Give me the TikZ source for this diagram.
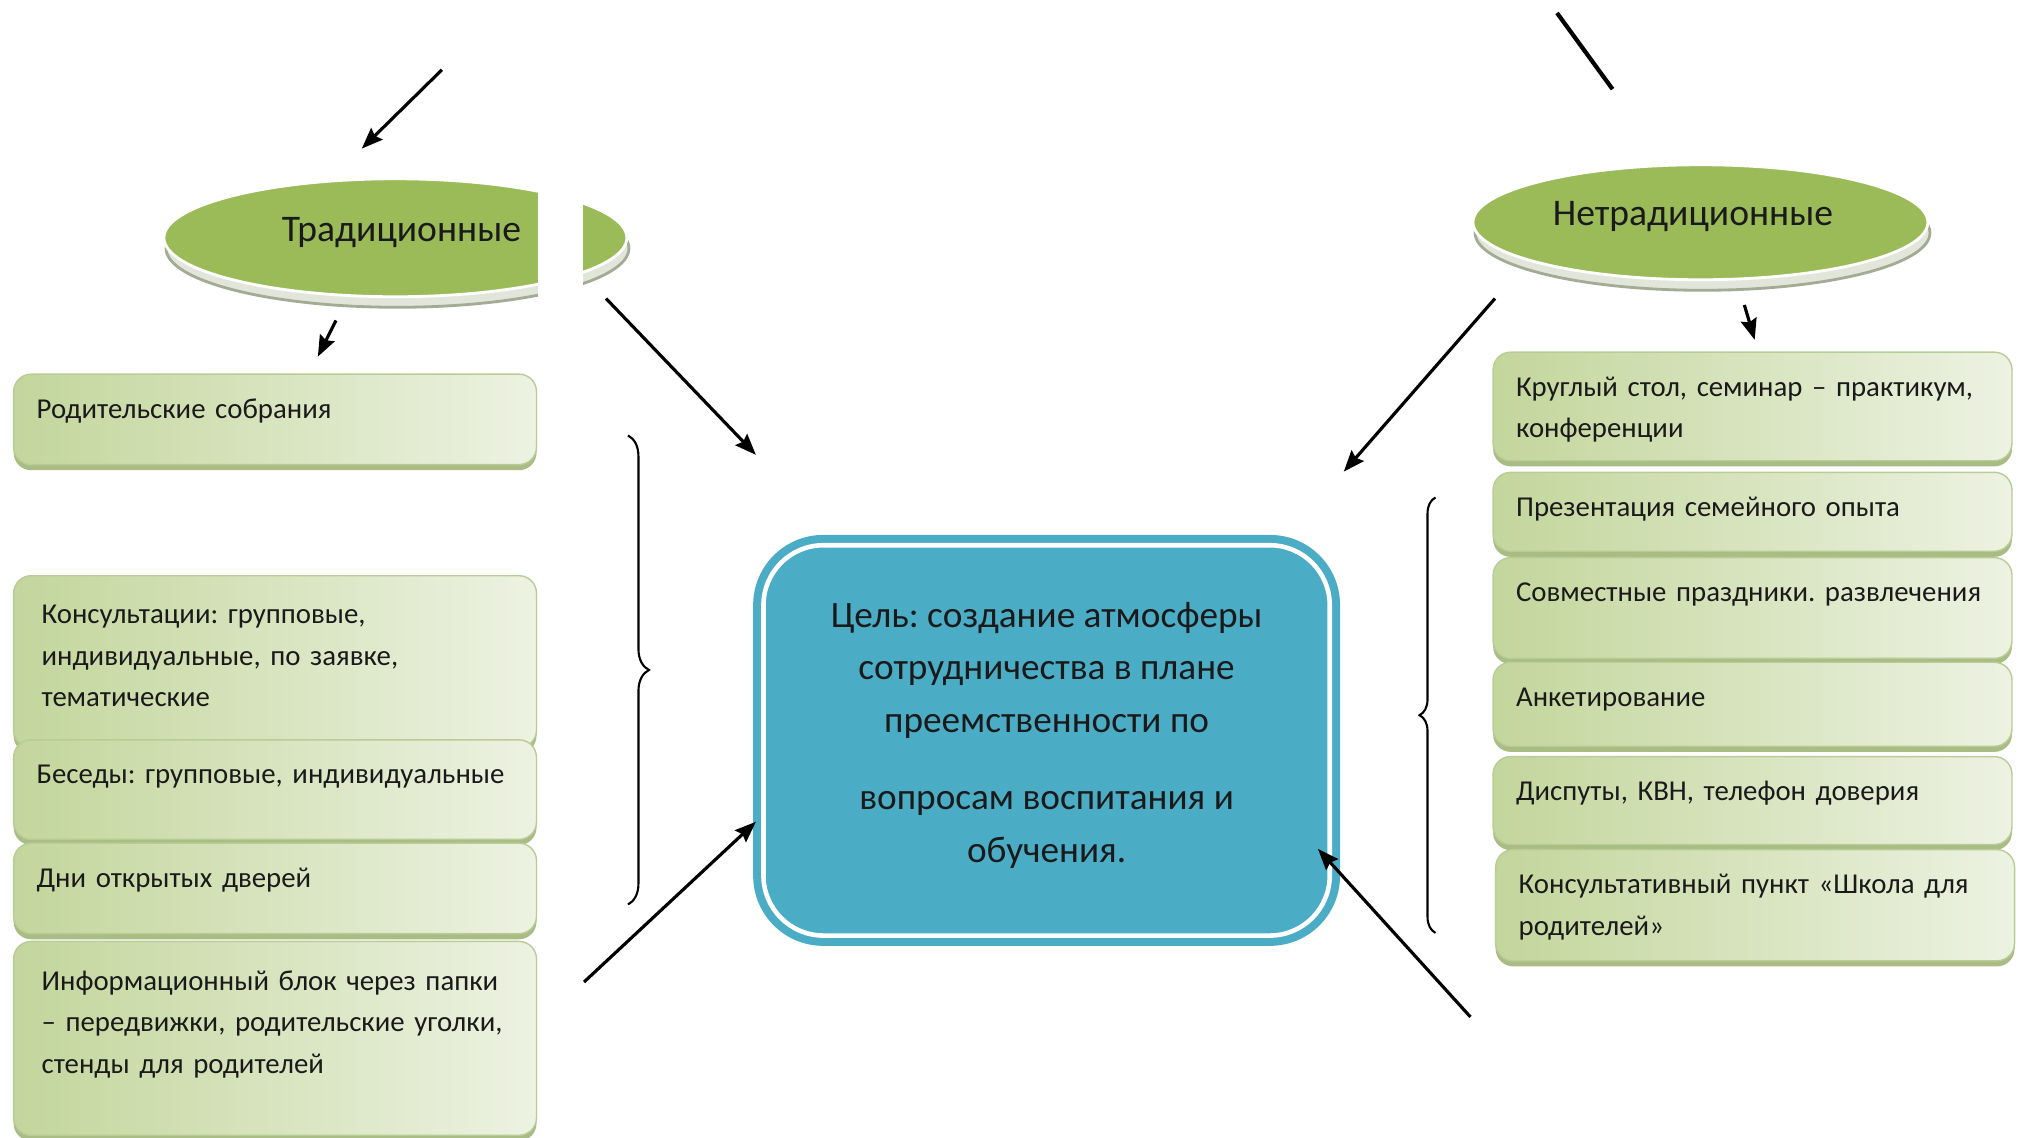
\documentclass[tikz,border=0pt]{standalone}
\usepackage{fontspec}
\setmainfont{Carlito}
\usetikzlibrary{shapes.geometric,shadows,decorations.pathreplacing,arrows.meta}

\definecolor{ellgreen}{HTML}{9BBB59}
\definecolor{rimlight}{HTML}{E2E6DA}
\definecolor{rimedge}{HTML}{A3AB95}
\definecolor{boxdark}{HTML}{C3D69C}
\definecolor{boxlight}{HTML}{EDF2E2}
\definecolor{boxedge}{HTML}{B9CC96}
\definecolor{boxshade}{HTML}{A9BC84}
\definecolor{goalblue}{HTML}{4BACC6}
\definecolor{inktext}{HTML}{1A1A1A}

\frenchspacing

\begin{document}
\begin{tikzpicture}[x=0.01292cm, y=-0.01292cm, >={Stealth[length=6pt,width=4.6pt,inset=0.8pt]},
                    text=inktext, font=\fontsize{8.2}{11.8}\selectfont]

\tikzstyle{kind}    = [ellipse, fill=ellgreen, draw=white, line width=0.8pt,
                       general shadow={fill=rimlight, draw=rimedge, shadow yshift=-3pt, shadow xshift=0.6pt},
                       font=\fontsize{10.7}{13}\selectfont, inner sep=0pt, text depth=0.17cm]
\tikzstyle{lbox}    = [rectangle, rounded corners=5pt, draw=boxedge,
                       left color=boxdark, right color=boxlight,
                       general shadow={fill=boxshade, shadow yshift=-1.6pt},
                       anchor=north west, align=left, inner xsep=0.23cm, inner ysep=0pt,
                       text height=0.44cm, text width=4.77cm]
\tikzstyle{wbox}    = [lbox, inner xsep=0.28cm, text width=4.67cm]
\tikzstyle{rbox}    = [lbox, text width=4.73cm]
\tikzstyle{goalbox} = [rectangle, rounded corners=0.7cm, fill=goalblue,
                       minimum width=5.87cm, minimum height=4.11cm, inner sep=0pt]
\tikzstyle{goaltext}= [align=center, font=\fontsize{10.6}{15}\selectfont]
\tikzstyle{arr}     = [->, line width=0.9pt]
\tikzstyle{brc}     = [decorate, line width=0.6pt]

\useasboundingbox (0,0) rectangle (1568,880);

% ── Left column: traditional forms ──────────────────────
\node[kind] (trad) at (306,184) [minimum width=4.63cm, minimum height=1.18cm] {\hspace*{0.12cm}Традиционные};
\fill[white] (416,128) rectangle (451,252);

\node[lbox, text depth=0.465cm] (p1) at (10,289) {Родительские собрания};
\node[wbox, text height=0.48cm, text depth=1.24cm] (p2) at (10,445)
  {Консультации: групповые,\\индивидуальные, по заявке,\\тематические};
\node[lbox, text depth=0.556cm] (p3) at (10,572) {Беседы: групповые, индивидуальные};
\node[lbox, text depth=0.465cm] (p4) at (10,652) {Дни открытых дверей};
\node[wbox, text height=0.49cm, text depth=1.45cm] (p5) at (10,728)
  {Информационный блок через папки\\– передвижки, родительские уголки,\\стенды для родителей};

% ── Right column: non-traditional forms ─────────────────
\node[kind] (nontrad) at (1316,172) [minimum width=4.55cm, minimum height=1.15cm] {Нетрадиционные\hspace*{0.15cm}};

\node[rbox, text depth=0.646cm] (q1) at (1155,272) {Круглый стол, семинар – практикум,\\конференции};
\node[rbox, text depth=0.349cm] (q2) at (1155,365) {Презентация семейного опыта};
\node[rbox, text depth=0.568cm] (q3) at (1155,431) {Совместные праздники. развлечения};
\node[rbox, text depth=0.40cm]  (q4) at (1155,512) {Анкетирование};
\node[rbox, text depth=0.439cm] (q5) at (1155,585) {Диспуты, КВН, телефон доверия};
\node[rbox, text depth=0.672cm] (q6) at (1157,657) {Консультативный пункт «Школа для\\родителей»};

% ── Centre: goal ────────────────────────────────────────
\node[goalbox] (goal) at (810,573) {};
\draw[white, line width=1.3pt, rounded corners=0.6cm]
  ([shift={(0.11cm,-0.11cm)}]goal.north west) rectangle ([shift={(-0.11cm,0.11cm)}]goal.south east);
\node[goaltext] (goaltxt) at (810,569)
  {Цель: создание атмосферы\\сотрудничества в плане\\преемственности по\\[7pt]вопросам воспитания и\\обучения.};

% ── Free ends of arrows and braces ─────────────────────
\coordinate (topL)   at (342,54);
\coordinate (topLe)  at (280,115);
\coordinate (tradS)  at (260,248);
\coordinate (p1N)    at (246,276);
\coordinate (tradE)  at (469,231);
\coordinate (goalNW) at (585,352);
\coordinate (botL)   at (452,760);
\coordinate (goalW)  at (585,636);
\coordinate (botR)   at (1138,787);
\coordinate (goalE)  at (1020,657);
\coordinate (ntW)    at (1157,231);
\coordinate (goalNE) at (1040,365);
\coordinate (ntS)    at (1350,236);
\coordinate (q1N)    at (1358,263);
\coordinate (topR)   at (1205,10);
\coordinate (topRe)  at (1248,69);

% ── Arrows ──────────────────────────────────────────────
\draw[arr] (topL)  -- (topLe);
\draw[arr] (tradS) -- (p1N);
\draw[arr] (tradE) -- (goalNW);
\draw[arr] (botL)  -- (goalW);
\draw[arr] (botR)  -- (goalE);
\draw[arr] (ntW)   -- (goalNE);
\draw[arr] (ntS)   -- (q1N);
\draw[line width=1.2pt] (topR) -- (topRe);

% ── Braces ──────────────────────────────────────────────
\draw[brc, decoration={brace, amplitude=0.21cm}] (486,337) -- (486,700);
\draw[brc, decoration={brace, amplitude=0.16cm}] (1111,722) -- (1111,385);

\end{tikzpicture}
\end{document}
